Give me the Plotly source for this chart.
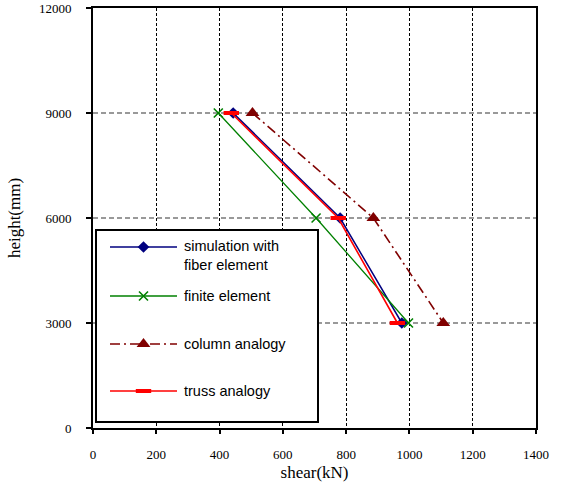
import plotly.graph_objects as go

# ---- data ----
heights = [9000, 6000, 3000]
fiber_shear = [443, 781, 976]
finite_shear = [396, 705, 997]
column_shear = [504, 886, 1107]
truss_shear = [437, 775, 962]

series_names = ["simulation with<br>fiber element", "finite element",
                "column analogy", "truss analogy"]
x_ticks = [0, 200, 400, 600, 800, 1000, 1200, 1400]
y_ticks = [0, 3000, 6000, 9000, 12000]

# ---- styles ----
styles = [
    dict(color="#00007F", dash="solid", width=1.5,
         marker=dict(symbol="diamond", size=9, color="#00007F")),
    dict(color="#008000", dash="solid", width=1.3,
         marker=dict(symbol="x-thin-open", size=9, color="#008000",
                     line=dict(width=1.6, color="#008000"))),
    dict(color="#800000", dash="10px,4px,2px,4px", width=1.6,
         marker=dict(symbol="triangle-up", size=12, color="#800000")),
    dict(color="#FF0000", dash="solid", width=1.6,
         marker=dict(symbol="line-ew", size=11, color="#FF0000",
                     line=dict(width=4, color="#FF0000"))),
]
series_x = [fiber_shear, finite_shear, column_shear, truss_shear]

fig = go.Figure()
for xs, st in zip(series_x, styles):
    fig.add_trace(go.Scatter(
        x=xs, y=heights, mode="lines+markers",
        line=dict(color=st["color"], dash=st["dash"], width=st["width"]),
        marker=st["marker"], showlegend=False, hoverinfo="skip"))

# ---- custom legend: its own small subplot drawn over the main one ----
plot_w, plot_h = 443, 420
box_w, box_h = 220, 190
leg_rows = [16, 65, 113, 160]
line_x0, line_x1, text_x = 13, 80, 85
for name, st, ry in zip(series_names, styles, leg_rows):
    fig.add_trace(go.Scatter(
        x=[line_x0, line_x1], y=[ry, ry], mode="lines", xaxis="x2", yaxis="y2",
        line=dict(color=st["color"], dash=st["dash"], width=st["width"]),
        showlegend=False, hoverinfo="skip", cliponaxis=False))
    fig.add_trace(go.Scatter(
        x=[(line_x0 + line_x1) / 2], y=[ry], mode="markers", xaxis="x2", yaxis="y2",
        marker=st["marker"], showlegend=False, hoverinfo="skip", cliponaxis=False))
    ty = ry + 8 if "<br>" in name else ry
    fig.add_annotation(x=text_x, y=ty, xref="x2", yref="y2", text=name,
                       showarrow=False, xanchor="left", yanchor="middle", align="left",
                       font=dict(family="Liberation Sans, Arial", size=14.5, color="#000"))

tick_font = dict(family="Liberation Serif, Times New Roman", size=13, color="#000")
title_font = dict(family="Liberation Serif, Times New Roman", size=17, color="#000")

fig.update_layout(
    width=562, height=482,
    margin=dict(l=93, r=26, t=8, b=54, autoexpand=False),
    paper_bgcolor="white", plot_bgcolor="white",
    xaxis=dict(range=[0, 1400], tickvals=x_ticks, ticktext=[str(v) for v in x_ticks],
               domain=[0, 1], anchor="y", automargin=False,
               showgrid=True, gridcolor="black", griddash="3px,2px", gridwidth=1.3,
               showline=True, linecolor="black", linewidth=2, mirror=True,
               ticks="outside", ticklen=4, tickcolor="black", tickwidth=1.5,
               tickfont=tick_font, ticklabelstandoff=9,
               title=dict(text="shear(kN)", font=title_font, standoff=8),
               zeroline=False, fixedrange=True),
    yaxis=dict(range=[0, 12000], tickvals=y_ticks, ticktext=[str(v) for v in y_ticks],
               domain=[0, 1], anchor="x", automargin=False,
               showgrid=True, gridcolor="#999999", griddash="5px,3px", gridwidth=1.5,
               showline=True, linecolor="black", linewidth=2, mirror=True,
               ticks="outside", ticklen=5, tickcolor="black", tickwidth=1.5,
               tickfont=tick_font, ticklabelstandoff=12,
               title=dict(text="height(mm)", font=title_font, standoff=14),
               zeroline=False, fixedrange=True),
    xaxis2=dict(domain=[4 / plot_w, (4 + box_w) / plot_w], anchor="y2", range=[0, box_w],
                automargin=False,
                showgrid=False, zeroline=False, showticklabels=False, ticks="",
                showline=True, linecolor="black", linewidth=1.5, mirror=True,
                fixedrange=True),
    yaxis2=dict(domain=[7 / plot_h, (7 + box_h) / plot_h], anchor="x2", range=[box_h, 0],
                automargin=False,
                showgrid=False, zeroline=False, showticklabels=False, ticks="",
                showline=True, linecolor="black", linewidth=1.5, mirror=True,
                fixedrange=True),
    showlegend=False,
)

fig.write_html("out.html")
